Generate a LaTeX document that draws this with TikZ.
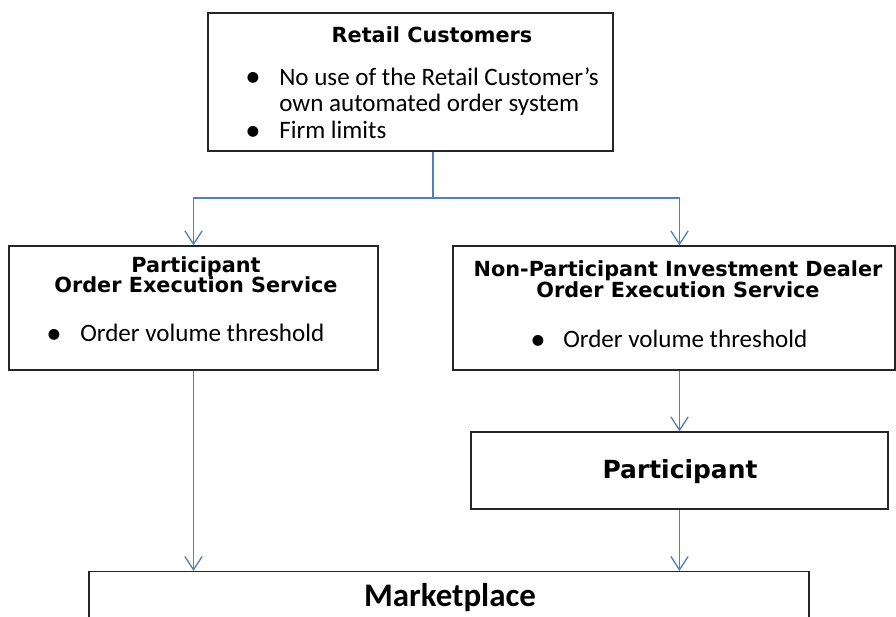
\documentclass[tikz,border=0pt]{standalone}
\usepackage{fontspec}
\setmainfont{Carlito}
\newfontfamily\headfont{DejaVu Sans}
\usetikzlibrary{arrows.meta}
\definecolor{linkblue}{RGB}{79,129,189}
\tikzset{
  box/.style={draw=black!85,line width=0.9pt,rectangle,inner sep=0pt},
  head/.style={font=\headfont\bfseries\fontsize{15.6}{17}\selectfont,align=center,inner sep=0pt},
  item/.style={font=\fontsize{18.8}{20}\selectfont,anchor=base west,inner sep=0pt},
  dot/.style={font=\fontsize{23}{20}\selectfont,anchor=base west,inner sep=0pt},
  link/.style={draw=linkblue,line width=1.2pt},
  flow/.style={link,-{Straight Barb[length=10pt,width=13pt,line width=1pt]}}
}
\begin{document}
\begin{tikzpicture}[x=0.75pt,y=0.75pt,yscale=-1]
\useasboundingbox (0,0) rectangle (896,617);
\clip (0,0) rectangle (896,617);

%Boxes
\node[box,minimum width=303.75pt,minimum height=103.5pt] (retail) at (410.5,82) {};
\node[box,minimum width=276.75pt,minimum height=93pt] (poes) at (193.5,308) {};
\node[box,minimum width=331.5pt,minimum height=93pt] (npoes) at (674,308) {};
\node[box,minimum width=312.75pt,minimum height=57.75pt] (part) at (679.5,470.5) {};
\node[box,minimum width=540pt,minimum height=60pt,anchor=north] (market) at (449,571) {};

%Connectors
\coordinate (split) at (433,198);
\draw[link] (retail.south -| split) -- (split);
\draw[flow] (split) -| (poes.north);
\draw[flow] (split) -| (npoes.north -| part.north);
\draw[flow] (npoes.south -| part.north) -- (part.north);
\draw[flow] (part.south) -- (part.south |- market.north);
\draw[flow] (poes.south) -- (poes.south |- market.north);

% Text Node
\node[head,anchor=base] (retailhead) at (432,43) {Retail Customers};
\node[dot] (rb1) at (245,87) {•};
\node[item] (rt1) at (279,85) {No use of the Retail Customer’s};
\node[item] (rt2) at (279,112) {own automated order system};
\node[dot] (rb2) at (245,140) {•};
\node[item] (rt3) at (279,138) {Firm limits};

% Text Node
\node[head,anchor=base] (poeshead1) at (196,272) {Participant};
\node[head,anchor=base] (poeshead2) at (196,292) {Order Execution Service};
\node[dot] (pb1) at (46,343) {•};
\node[item] (pt1) at (80,341) {Order volume threshold};

% Text Node
\node[head,anchor=base] (npoeshead1) at (678,276) {Non-Participant Investment Dealer};
\node[head,anchor=base] (npoeshead2) at (678,297) {Order Execution Service};
\node[dot] (nb1) at (530,349) {•};
\node[item] (nt1) at (563,347) {Order volume threshold};

% Text Node
\node[head,font=\headfont\bfseries\fontsize{18.7}{20}\selectfont,anchor=base] (parttext) at (680,478) {Participant};
\node[font=\bfseries\fontsize{24.7}{26}\selectfont,anchor=base,inner sep=0pt] (markettext) at (450,606) {Marketplace};

\end{tikzpicture}
\end{document}
